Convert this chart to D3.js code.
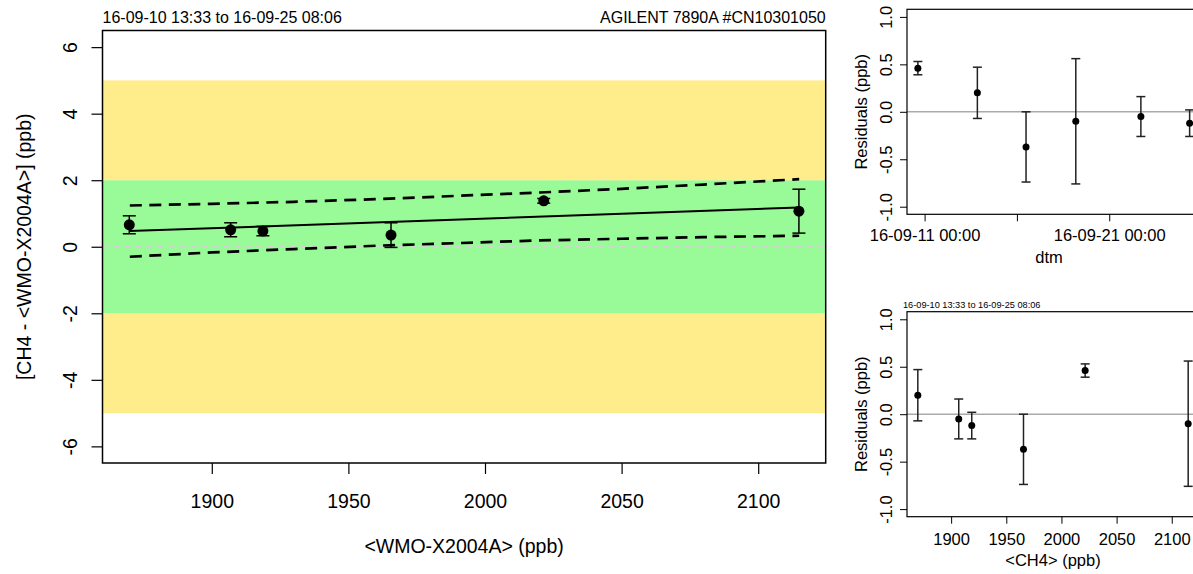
<!DOCTYPE html>
<html>
<head>
<meta charset="utf-8">
<script src="https://cdn.jsdelivr.net/npm/d3@7"></script>
<style>
body { margin: 0; background: #fff; }
text { font-family: "Liberation Sans", Arial, Helvetica, sans-serif; fill: #000; }
</style>
</head>
<body>
<script>
// samples in time order
var dtm   = ["2016-09-10 15:15", "2016-09-13 20:35", "2016-09-16 11:51", "2016-09-19 04:32", "2016-09-22 17:08", "2016-09-25 08:30"]
var ch4   = [2021.5, 1869.8, 1965.6, 2114.9, 1906.9, 1918.7]
var diff  = [1.38, 0.66, 0.35, 1.07, 0.51, 0.47]
var resid = [0.46, 0.20, -0.37, -0.10, -0.05, -0.12]
var err   = [0.07, 0.27, 0.37, 0.66, 0.21, 0.14]

// fitted line and dashed band
var fitX = [1869.8, 2114.9]
var fitY = [0.47, 1.18]
var bandX  = [1870, 1900, 1930, 1960, 1990, 2020, 2050, 2080, 2115]
var bandUp = [1.24, 1.29, 1.35, 1.43, 1.53, 1.63, 1.74, 1.87, 2.03]
var bandLo = [-0.30, -0.17, -0.07, 0.03, 0.11, 0.19, 0.24, 0.29, 0.33]

var zoneEdges = [-5, -2, 2, 5]
var zoneColors = ["#FFEC8B", "#98FB98", "#FFEC8B"]

var mainYTicks = [-6, -4, -2, 0, 2, 4, 6]
var ch4Ticks = [1900, 1950, 2000, 2050, 2100]
var residTicks = [-1, -0.5, 0, 0.5, 1]
var dtmTicks = ["2016-09-11 00:00", "2016-09-16 00:00", "2016-09-21 00:00"]
var dtmTickLabels = ["16-09-11 00:00", "", "16-09-21 00:00"]

var period = "16-09-10 13:33 to 16-09-25 08:06"
var instrument = "AGILENT 7890A #CN10301050"

function parseT(s) {
    var p = s.split(/[- :]/).map(Number)
    return new Date(Date.UTC(p[0], p[1] - 1, p[2], p[3], p[4]))
}
var times = dtm.map(parseT)

function pad(ext) {
    var a = +ext[0], b = +ext[1]
    var d = (b - a) * 0.04
    return [a - d, b + d]
}

var svg = d3.select("body").append("svg")
    .attr("width", 1193)
    .attr("height", 574)

svg.append("rect").attr("width", 1193).attr("height", 574).attr("fill", "#fff")

// ---------- main panel ----------
var M = {l: 102.5, r: 825.7, t: 30.5, b: 463}
var x = d3.scaleLinear().domain(pad(d3.extent(ch4))).range([M.l, M.r])
var y = d3.scaleLinear().domain([-6.5, 6.5]).range([M.b, M.t])

var main = svg.append("g")

main.selectAll("rect.zone")
    .data(zoneColors)
    .enter().append("rect")
    .attr("x", M.l)
    .attr("width", M.r - M.l)
    .attr("y", function(d, i) { return y(zoneEdges[i + 1]) })
    .attr("height", function(d, i) { return y(zoneEdges[i]) - y(zoneEdges[i + 1]) })
    .attr("fill", function(d) { return d })

main.append("line")
    .attr("x1", M.l).attr("x2", M.r)
    .attr("y1", y(0)).attr("y2", y(0))
    .attr("stroke", "#d3d3d3")
    .attr("stroke-width", 2)
    .attr("stroke-dasharray", "6,5")

var xyLine = d3.line()
    .x(function(d) { return x(d[0]) })
    .y(function(d) { return y(d[1]) })

;[bandUp, bandLo].forEach(function(b) {
    main.append("path")
        .attr("d", xyLine(bandX.map(function(v, i) { return [v, b[i]] })))
        .attr("fill", "none")
        .attr("stroke", "#000")
        .attr("stroke-width", 2.7)
        .attr("stroke-dasharray", "12,7.5")
})

main.append("path")
    .attr("d", xyLine(fitX.map(function(v, i) { return [v, fitY[i]] })))
    .attr("fill", "none")
    .attr("stroke", "#000")
    .attr("stroke-width", 2)

function errorBars(g, xs, ys, es, sx, sy, cap, r, col) {
    var sel = g.selectAll(null).data(xs).enter().append("g")
    sel.append("line")
        .attr("x1", function(d) { return sx(d) }).attr("x2", function(d) { return sx(d) })
        .attr("y1", function(d, i) { return sy(ys[i] - es[i]) })
        .attr("y2", function(d, i) { return sy(ys[i] + es[i]) })
        .attr("stroke", col).attr("stroke-width", 1.5)
    ;[-1, 1].forEach(function(s) {
        sel.append("line")
            .attr("x1", function(d) { return sx(d) - cap }).attr("x2", function(d) { return sx(d) + cap })
            .attr("y1", function(d, i) { return sy(ys[i] + s * es[i]) })
            .attr("y2", function(d, i) { return sy(ys[i] + s * es[i]) })
            .attr("stroke", col).attr("stroke-width", 1.5)
    })
    sel.append("circle")
        .attr("cx", function(d) { return sx(d) })
        .attr("cy", function(d, i) { return sy(ys[i]) })
        .attr("r", r)
        .attr("fill", "#000")
}

errorBars(main, ch4, diff, err, x, y, 6.5, 5.5, "#000")

main.append("rect")
    .attr("x", M.l).attr("y", M.t)
    .attr("width", M.r - M.l).attr("height", M.b - M.t)
    .attr("fill", "none").attr("stroke", "#000").attr("stroke-width", 1.5)

var yAx = main.append("g")
    .attr("transform", "translate(" + M.l + ",0)")
    .call(d3.axisLeft(y).tickValues(mainYTicks).tickSize(11).tickFormat(function(d) { return String(d) }))
yAx.select(".domain").remove()
yAx.selectAll("line").attr("stroke-width", 1.2)
yAx.selectAll("text")
    .attr("x", null).attr("dy", null)
    .attr("transform", "translate(-25.5,0) rotate(-90)")
    .attr("text-anchor", "middle")
    .style("font-size", "19.5px")

var xAx = main.append("g")
    .attr("transform", "translate(0," + M.b + ")")
    .call(d3.axisBottom(x).tickValues(ch4Ticks).tickSize(11).tickFormat(function(d) { return String(d) }))
xAx.select(".domain").remove()
xAx.selectAll("line").attr("stroke-width", 1.2)
xAx.selectAll("text")
    .attr("y", 45).attr("dy", null)
    .style("font-size", "19.5px")

main.append("text")
    .attr("x", M.l).attr("y", 23)
    .style("font-size", "16px")
    .text(period)
main.append("text")
    .attr("x", M.r).attr("y", 23)
    .attr("text-anchor", "end")
    .style("font-size", "16px")
    .text(instrument)
main.append("text")
    .attr("transform", "translate(31," + y(0) + ") rotate(-90)")
    .attr("text-anchor", "middle")
    .style("font-size", "19.5px")
    .text("[CH4 - <WMO-X2004A>] (ppb)")
main.append("text")
    .attr("x", (M.l + M.r) / 2).attr("y", 553)
    .attr("text-anchor", "middle")
    .style("font-size", "19.5px")
    .text("<WMO-X2004A> (ppb)")

// ---------- residual panels ----------
function residPanel(P, sx, xs, xTicks, xFmt, xlab, title) {
    var g = svg.append("g")
    var sy = d3.scaleLinear().domain([-1.08, 1.08]).range([P.b, P.t])

    g.append("line")
        .attr("x1", P.l).attr("x2", P.r)
        .attr("y1", sy(0)).attr("y2", sy(0))
        .attr("stroke", "#aaa").attr("stroke-width", 1.5)

    errorBars(g, xs, resid, err, sx, sy, 4.5, 3.5, "#222")

    g.append("rect")
        .attr("x", P.l).attr("y", P.t)
        .attr("width", P.r - P.l).attr("height", P.b - P.t)
        .attr("fill", "none").attr("stroke", "#000").attr("stroke-width", 1.2)

    var ya = g.append("g")
        .attr("transform", "translate(" + P.l + ",0)")
        .call(d3.axisLeft(sy).tickValues(residTicks).tickSize(7).tickFormat(function(d) { return d.toFixed(1) }))
    ya.select(".domain").remove()
    ya.selectAll("text")
        .attr("x", null).attr("dy", null)
        .attr("transform", "translate(-15,0) rotate(-90)")
        .attr("text-anchor", "middle")
        .style("font-size", "16.5px")

    var xa = g.append("g")
        .attr("transform", "translate(0," + P.b + ")")
        .call(d3.axisBottom(sx).tickValues(xTicks).tickSize(7).tickFormat(xFmt))
    xa.select(".domain").remove()
    xa.selectAll("text")
        .attr("y", P.xlabY).attr("dy", null)
        .style("font-size", "16.5px")

    g.append("text")
        .attr("transform", "translate(866.5," + sy(0) + ") rotate(-90)")
        .attr("text-anchor", "middle")
        .style("font-size", "16.5px")
        .text("Residuals (ppb)")
    g.append("text")
        .attr("x", P.labX).attr("y", P.labY)
        .attr("text-anchor", "middle")
        .style("font-size", "16.5px")
        .text(xlab)
    if (title) {
        g.append("text")
            .attr("x", P.l - 4).attr("y", P.t - 4)
            .style("font-size", "9.2px")
            .text(title)
    }
}

var T = {l: 907, r: 1200.5, t: 9.3, b: 214.3, xlabY: 27, labX: 1049, labY: 263}
var xt = d3.scaleUtc().domain(pad(d3.extent(times))).range([T.l, T.r])
var tickDates = dtmTicks.map(parseT)
residPanel(T, xt, times, tickDates, function(d, i) { return dtmTickLabels[i] }, "dtm", null)

var B = {l: 907, r: 1199, t: 311.7, b: 516.7, xlabY: 28.3, labX: 1053, labY: 566}
var xb = d3.scaleLinear().domain(pad(d3.extent(ch4))).range([B.l, B.r])
residPanel(B, xb, ch4, ch4Ticks, function(d) { return String(d) }, "<CH4> (ppb)", period)
</script>
</body>
</html>
